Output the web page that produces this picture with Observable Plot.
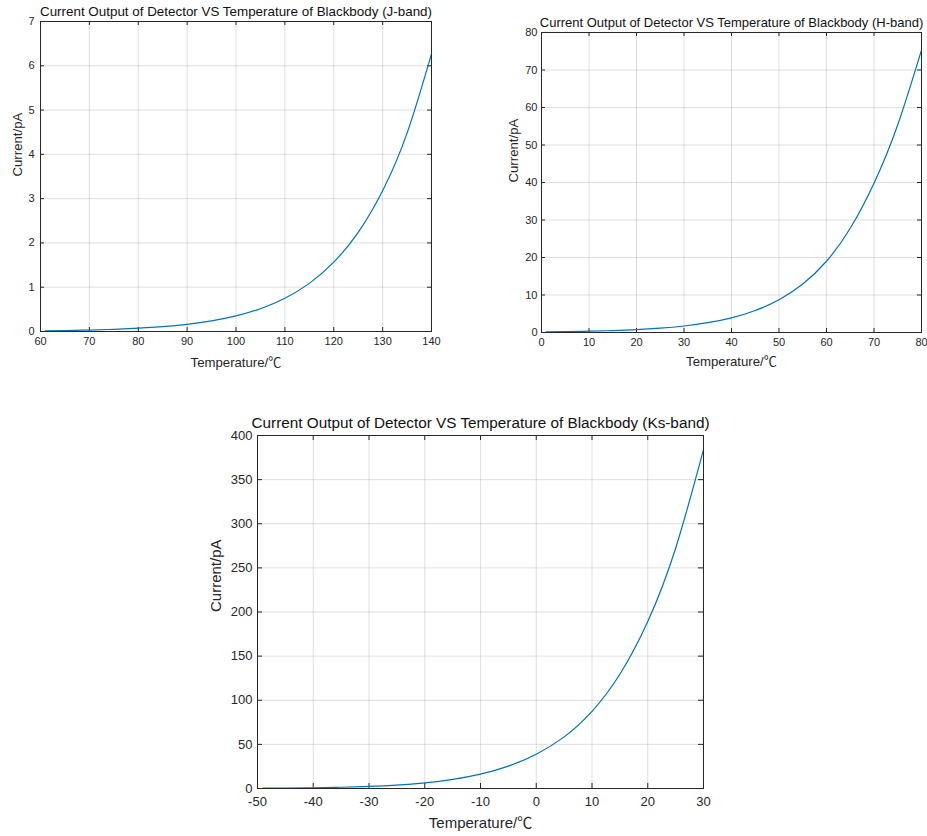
<!DOCTYPE html>
<html><head><meta charset="utf-8">
<script src="https://cdn.jsdelivr.net/npm/d3@7"></script>
<script src="https://cdn.jsdelivr.net/npm/@observablehq/plot@0.6"></script>
<style>
body{margin:0;background:#fff;}
#wrap{position:relative;width:927px;height:836px;overflow:hidden;}
.panel{position:absolute;}
</style></head><body><div id="wrap"></div>
<script>
// ---- Data ----
const jTemp    = [61, 65, 70, 75, 80, 85, 90, 95, 100, 105, 110, 115, 120, 125, 130, 135, 140];
const jCurrent = [0.0155, 0.022, 0.033, 0.0495, 0.074, 0.11, 0.163, 0.24, 0.352, 0.515, 0.75, 1.087, 1.565, 2.24, 3.18, 4.48, 6.27];
const jXTicks  = [60, 70, 80, 90, 100, 110, 120, 130, 140];
const jYTicks  = [0, 1, 2, 3, 4, 5, 6, 7];

const hTemp    = [1, 5, 10, 15, 20, 25, 30, 35, 40, 45, 50, 55, 60, 65, 70, 75, 80];
const hCurrent = [0.165, 0.229, 0.343, 0.515, 0.77, 1.16, 1.74, 2.61, 3.91, 5.87, 8.75, 12.95, 19.0, 27.8, 39.8, 55.4, 75.3];
const hXTicks  = [0, 10, 20, 30, 40, 50, 60, 70, 80];
const hYTicks  = [0, 10, 20, 30, 40, 50, 60, 70, 80];

const ksTemp    = [-49, -45, -40, -35, -30, -25, -20, -15, -10, -5, 0, 5, 10, 15, 20, 25, 30];
const ksCurrent = [0.33, 0.5, 0.84, 1.41, 2.35, 3.88, 6.35, 10.3, 16.3, 25.4, 38.9, 58.5, 87.5, 129.5, 189.1, 272.3, 384];
const ksXTicks  = [-50, -40, -30, -20, -10, 0, 10, 20, 30];
const ksYTicks  = [0, 50, 100, 150, 200, 250, 300, 350, 400];

const xLabel = "Temperature/℃";
const yLabel = "Current/pA";
const titles = [
  "Current Output of Detector VS Temperature of Blackbody (J-band)",
  "Current Output of Detector VS Temperature of Blackbody (H-band)",
  "Current Output of Detector VS Temperature of Blackbody (Ks-band)"
];

const ink = "#262626";
const font = "'Liberation Sans', Arial, 'Noto Sans CJK SC', sans-serif";

function panel(o) {
  const data = o.temps.map((t, i) => ({t, c: o.currents[i]}));
  const pw = o.width - o.ml - o.mr, ph = o.height - o.mt - o.mb;
  const tk = o.tick;
  const svg = Plot.plot({
    width: o.width, height: o.height,
    marginLeft: o.ml, marginRight: o.mr, marginTop: o.mt, marginBottom: o.mb,
    style: {fontFamily: font, fontSize: o.fs + "px", color: ink, background: "transparent", overflow: "visible"},
    x: {domain: [o.xTicks[0], o.xTicks[o.xTicks.length - 1]], label: null},
    y: {domain: [o.yTicks[0], o.yTicks[o.yTicks.length - 1]], label: null},
    marks: [
      Plot.gridX(o.xTicks, {stroke: ink, strokeOpacity: 0.15}),
      Plot.gridY(o.yTicks, {stroke: ink, strokeOpacity: 0.15}),
      Plot.ruleX(o.xTicks, {x: d => d, insetTop: ph - tk, stroke: ink}),
      Plot.ruleX(o.xTicks, {x: d => d, insetBottom: ph - tk, stroke: ink}),
      Plot.ruleY(o.yTicks, {y: d => d, insetRight: pw - tk, stroke: ink}),
      Plot.ruleY(o.yTicks, {y: d => d, insetLeft: pw - tk, stroke: ink}),
      Plot.line(data, {x: "t", y: "c", stroke: "#0072BD", strokeWidth: 1.2, curve: "natural"}),
      Plot.frame({stroke: ink, strokeWidth: 1}),
      Plot.axisX(o.xTicks, {tickSize: 0, tickPadding: o.xPad, fill: ink, tickFormat: d => String(d)}),
      Plot.axisY(o.yTicks, {tickSize: 0, tickPadding: o.yPad, fill: ink, tickFormat: d => String(d)}),
      Plot.text([o.title], {text: d => d, frameAnchor: "top", dy: o.titleDy, lineAnchor: "middle", fontSize: o.titleFs, fill: "#111"}),
      Plot.text([xLabel], {text: d => d, frameAnchor: "bottom", dy: o.xlDy, lineAnchor: "middle", fontSize: o.labelFs, fill: ink}),
      Plot.text([yLabel], {text: d => d, frameAnchor: "left", dx: o.ylDx, rotate: -90, lineAnchor: "middle", fontSize: o.labelFs, fill: ink})
    ]
  });
  svg.classList.add("panel");
  svg.style.left = o.left + "px";
  svg.style.top = o.top + "px";
  document.getElementById("wrap").appendChild(svg);
}

panel({temps: jTemp, currents: jCurrent, xTicks: jXTicks, yTicks: jYTicks, title: titles[0],
  left: 0, top: 0, width: 450, height: 372, ml: 40, mr: 19, mt: 21, mb: 41,
  fs: 11, titleFs: 13.4, labelFs: 13.2, tick: 4, xPad: 6, yPad: 6,
  titleDy: -10, xlDy: 31, ylDx: -23});

panel({temps: hTemp, currents: hCurrent, xTicks: hXTicks, yTicks: hYTicks, title: titles[1],
  left: 490, top: 0, width: 437, height: 372, ml: 51, mr: 6, mt: 32, mb: 40,
  fs: 11, titleFs: 13, labelFs: 13.2, tick: 4, xPad: 6, yPad: 4,
  titleDy: -10, xlDy: 29.5, ylDx: -28});

panel({temps: ksTemp, currents: ksCurrent, xTicks: ksXTicks, yTicks: ksYTicks, title: titles[2],
  left: 200, top: 405, width: 520, height: 431, ml: 57, mr: 17, mt: 30, mb: 48,
  fs: 13, titleFs: 15.3, labelFs: 15, tick: 5, xPad: 8, yPad: 5,
  titleDy: -12, xlDy: 35, ylDx: -41});
</script>
</body></html>
